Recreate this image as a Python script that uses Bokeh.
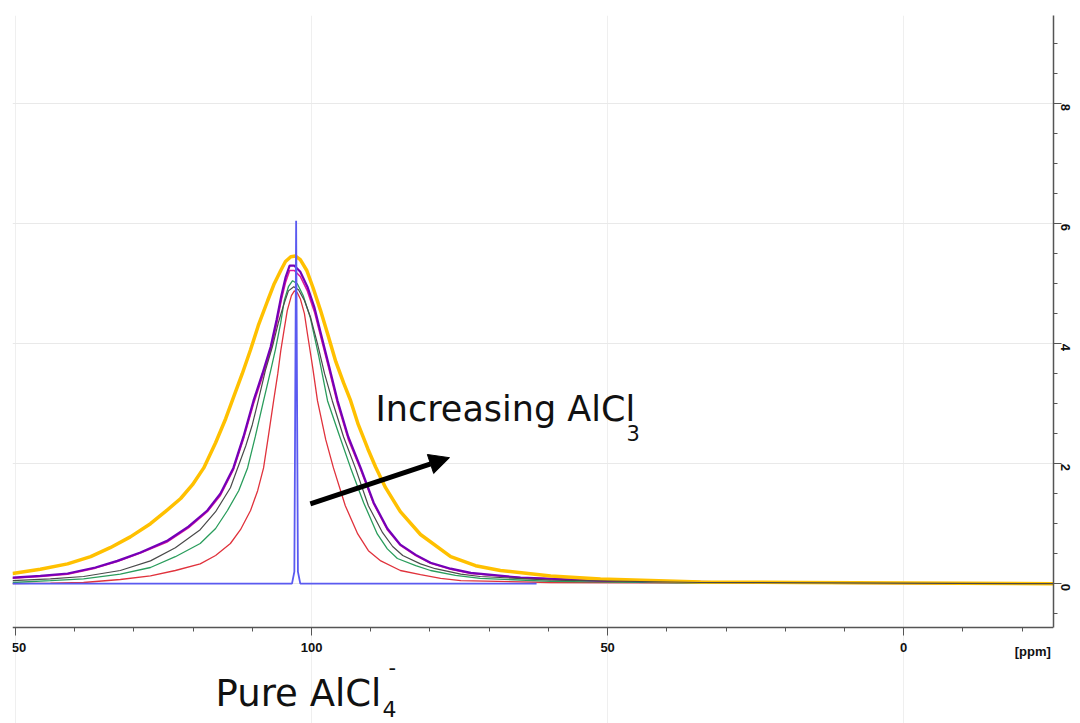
import math
from bokeh.plotting import figure
from bokeh.models import Range1d, FixedTicker, Label, Arrow, NormalHead
from bokeh.embed import file_html
from bokeh.resources import INLINE

# ---- data (chemical shift in ppm, intensity) ----
yellow_ppm = [150.5, 145.8, 141.2, 137.3, 134.0, 130.6, 127.2, 124.7, 122.1, 120.1, 118.2, 116.2,
              114.5, 113.2, 111.7, 110.3, 109.0, 107.4, 106.3, 105.2, 104.4, 103.5, 102.7, 101.9,
              100.8, 99.7, 98.5, 97.3, 95.9, 94.6, 93.4, 92.1, 90.5, 89.2, 87.5, 85.0, 81.6, 76.5,
              72.3, 68.1, 59.6, 51.2, 34.3, 17.4, -25.3]
yellow_val = [0.17, 0.24, 0.33, 0.45, 0.6, 0.78, 1.0, 1.2, 1.42, 1.65, 1.93, 2.35,
              2.75, 3.1, 3.5, 3.9, 4.3, 4.72, 5.0, 5.22, 5.37, 5.45, 5.46, 5.4,
              5.22, 4.92, 4.56, 4.17, 3.7, 3.35, 3.05, 2.65, 2.25, 1.95, 1.6, 1.2, 0.82, 0.45,
              0.3, 0.22, 0.13, 0.08, 0.03, 0.02, 0.0]

purple_ppm = [150.5, 145.8, 141.2, 136.5, 132.8, 128.9, 124.3, 120.8, 117.6, 115.4, 113.2, 111.5,
              109.8, 108.3, 106.9, 105.9, 105.1, 104.4, 103.7, 102.9, 101.9, 100.7, 99.5, 98.5,
              97.1, 95.6, 93.8, 91.7, 89.5, 87.2, 85.0, 82.4, 79.9, 76.5, 73.1, 64.7, 51.2, 25.8, -25.3]
purple_val = [0.1, 0.13, 0.17, 0.27, 0.38, 0.52, 0.72, 0.95, 1.22, 1.5, 1.93, 2.45,
              3.05, 3.5, 3.95, 4.4, 4.8, 5.1, 5.3, 5.3, 5.2, 4.95, 4.6, 4.2,
              3.65, 3.05, 2.45, 1.93, 1.35, 0.92, 0.65, 0.48, 0.35, 0.25, 0.18, 0.1, 0.05, 0.02, 0.0]

magenta_ppm = purple_ppm
magenta_val = [0.09, 0.12, 0.16, 0.26, 0.37, 0.51, 0.7, 0.93, 1.2, 1.47, 1.9, 2.41,
               3.0, 3.45, 3.89, 4.33, 4.73, 5.02, 5.22, 5.22, 5.12, 4.88, 4.53, 4.14,
               3.6, 3.0, 2.41, 1.9, 1.33, 0.9, 0.64, 0.47, 0.34, 0.24, 0.17, 0.1, 0.05, 0.02, 0.0]

dark_ppm = [150.5, 144.1, 138.5, 132.3, 127.2, 123.0, 118.8, 116.2, 113.7, 111.1, 110.0, 109.0,
            107.8, 106.6, 105.6, 104.7, 103.9, 103.0, 102.2, 101.2, 100.2, 99.0, 97.8, 96.5,
            94.6, 92.6, 90.4, 88.0, 86.3, 84.6, 81.6, 79.1, 74.8, 71.5, 59.6, 34.3, -25.3]
dark_val = [0.05, 0.08, 0.12, 0.22, 0.38, 0.6, 0.9, 1.2, 1.6, 2.3, 2.65, 3.05,
            3.55, 3.95, 4.35, 4.65, 4.88, 4.95, 4.9, 4.72, 4.45, 4.0, 3.5, 3.05,
            2.45, 1.93, 1.3, 0.85, 0.62, 0.47, 0.33, 0.25, 0.16, 0.12, 0.06, 0.02, 0.0]

green_ppm = [150.5, 144.1, 138.5, 132.3, 127.2, 123.0, 118.8, 116.2, 114.2, 112.3, 110.8, 109.5,
             108.1, 106.9, 106.1, 105.2, 104.6, 103.9, 103.2, 102.4, 101.4, 100.2, 98.8, 97.3,
             95.4, 93.4, 91.2, 88.9, 87.2, 85.5, 82.4, 79.9, 75.7, 71.5, 59.6, 34.3, -25.3]
green_val = [0.02, 0.05, 0.08, 0.16, 0.27, 0.45, 0.67, 0.92, 1.22, 1.55, 1.93, 2.45,
             3.05, 3.55, 3.9, 4.35, 4.72, 4.95, 5.05, 5.0, 4.8, 4.43, 3.8, 3.05,
             2.5, 1.93, 1.35, 0.83, 0.58, 0.42, 0.3, 0.22, 0.14, 0.09, 0.04, 0.01, 0.0]

red_ppm = [150.5, 144.1, 138.5, 132.3, 127.2, 123.0, 118.8, 116.2, 113.7, 112.0, 110.3, 109.1,
           108.1, 107.3, 106.4, 105.7, 105.2, 104.6, 104.1, 103.4, 102.9, 102.4, 101.9, 101.2,
           100.7, 99.8, 99.0, 97.6, 96.3, 94.3, 92.2, 90.4, 88.3, 85.0, 81.6, 78.2, 74.8, 59.6, -25.3]
red_val = [0.0, 0.01, 0.02, 0.07, 0.13, 0.22, 0.33, 0.47, 0.67, 0.9, 1.22, 1.55,
           1.93, 2.45, 3.05, 3.5, 3.88, 4.25, 4.55, 4.8, 4.88, 4.85, 4.75, 4.5,
           4.17, 3.6, 3.05, 2.4, 1.93, 1.3, 0.83, 0.55, 0.38, 0.22, 0.15, 0.09, 0.05, 0.02, 0.0]

blue_ppm = [150.5, 103.3, 102.9, 102.6, 102.3, 101.9, 62.0]
blue_val = [0.0, 0.0, 0.2, 6.05, 0.2, 0.0, 0.0]

x_major = [150, 100, 50, 0]
y_major = [0, 2, 4, 6, 8]
y_axis_bottom = -0.73
y_axis_top = 9.47

# ---- figure ----
p = figure(width=1080, height=723, x_range=Range1d(150.5, -25.3), y_range=Range1d(-2.33, y_axis_top),
           output_backend="svg", toolbar_location=None, y_axis_location="right",
           min_border_left=12, min_border_right=27, min_border_top=15, min_border_bottom=0)
p.outline_line_color = None
p.background_fill_color = "white"

p.line(red_ppm, red_val, line_color="#e0323c", line_width=1.3)
p.line(green_ppm, green_val, line_color="#2a9d5c", line_width=1.3)
p.line(magenta_ppm, magenta_val, line_color="#e0189a", line_width=1.6)
p.line(purple_ppm, purple_val, line_color="#7400b8", line_width=2.2)
p.line(yellow_ppm, yellow_val, line_color="#ffc000", line_width=3.5)
p.line(dark_ppm, dark_val, line_color="#4a4a4a", line_width=1.2)
p.line(blue_ppm, blue_val, line_color="#5a5af0", line_width=1.8)

# axes
xa = p.xaxis[0]
xa.ticker = FixedTicker(ticks=x_major, minor_ticks=list(range(150, -30, -10)))
xa.fixed_location = y_axis_bottom
ya = p.yaxis[0]
ya.ticker = FixedTicker(ticks=y_major, minor_ticks=[i * 0.5 for i in range(-1, 20)])
ya.bounds = (y_axis_bottom, y_axis_top)
for ax in (xa, ya):
    ax.axis_line_color = "#555555"
    ax.axis_line_width = 1.5
    ax.major_tick_line_color = "#555555"
    ax.minor_tick_line_color = "#555555"
    ax.major_tick_in = 0
    ax.minor_tick_in = 0
    ax.major_tick_out = 8
    ax.minor_tick_out = 4
    ax.major_label_text_font = "Liberation Sans"
    ax.major_label_text_font_style = "bold"
    ax.major_label_text_font_size = "13px"
    ax.major_label_text_color = "#111111"
ya.major_label_orientation = -math.pi / 2
ya.major_label_standoff = 4
xa.major_label_standoff = 7

p.xgrid.grid_line_color = "#efefef"
p.xgrid.bounds = (y_axis_bottom, y_axis_top)
p.ygrid.grid_line_color = "#e9e9e9"

# annotations
p.add_layout(Label(x=89.2, y=2.58, text="Increasing AlCl", text_font="DejaVu Sans",
                   text_font_size="35px", text_color="#111111"))
p.add_layout(Label(x=46.8, y=2.38, text="3", text_font="DejaVu Sans",
                   text_font_size="21px", text_color="#111111"))
p.add_layout(Arrow(end=NormalHead(size=20, fill_color="black", line_color="black"),
                   x_start=100.2, y_start=1.33, x_end=76.7, y_end=2.1,
                   line_width=5, line_color="black"))
p.add_layout(Label(x=-21.8, y=-1.0, text="[ppm]", text_font="Liberation Sans",
                   text_font_style="bold", text_font_size="13px", text_align="center",
                   text_baseline="top", text_color="#111111"))
p.add_layout(Label(x=116.2, y=-2.18, text="Pure AlCl", text_font="DejaVu Sans",
                   text_font_size="37px", text_color="#111111"))
p.add_layout(Label(x=88.0, y=-2.22, text="4", text_font="DejaVu Sans",
                   text_font_size="22px", text_color="#111111"))
p.add_layout(Label(x=87.0, y=-1.52, text="-", text_font="DejaVu Sans",
                   text_font_size="21px", text_color="#111111"))

open("out.html", "w").write(file_html(p, INLINE))
